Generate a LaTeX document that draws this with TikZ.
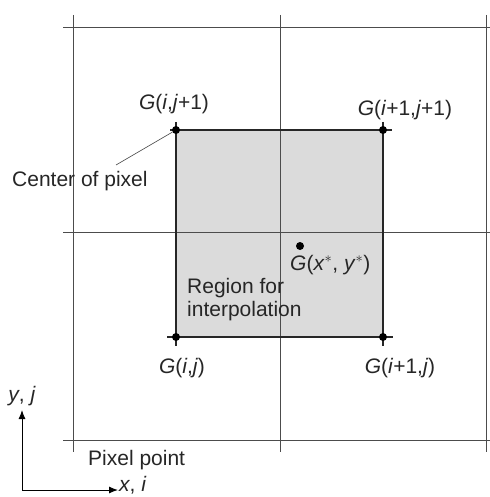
\documentclass[tikz,border=0pt]{standalone}
\usepackage{fontspec}
\setmainfont{Liberation Sans}
\usetikzlibrary{arrows.meta}
\begin{document}
\begin{tikzpicture}[x=1pt,y=-1pt,
  gridline/.style={draw=black!70,line width=0.7pt},
  rectline/.style={draw=black!85,line width=1.5pt},
  lbl/.style={font=\fontsize{21}{23}\selectfont,inner sep=0pt,text=black!85},
  dotpt/.style={circle,fill=black,inner sep=0pt,minimum size=8pt}]
\useasboundingbox (0,0) rectangle (489,497);
% grid
\foreach \xx in {73,280,486} \draw[gridline] (\xx,15) -- (\xx,452);
\foreach \yy in {27,232,440} \draw[gridline] (63,\yy) -- (492,\yy);
% region
\fill[black!14] (176,130) rectangle (383,337);
\draw[gridline] (280,130) -- (280,337);
\draw[gridline] (176,232) -- (383,232);
\draw[rectline] (170,130) -- (392,130);
\draw[rectline] (167,337) -- (393,337);
\draw[rectline] (176,122) -- (176,346);
\draw[rectline] (383,122) -- (383,346);
% corner points
\node[dotpt] (p11) at (176,130) {};
\node[dotpt] (p21) at (383,130) {};
\node[dotpt] (p10) at (176,337) {};
\node[dotpt] (p20) at (383,337) {};
\node[dotpt] (ps) at (300,246) {};
% labels
\node[lbl] (l11) at (174,104) {\textit{G}(\textit{i},\textit{j}+1)};
\node[lbl] (l21) at (405,110) {\textit{G}(\textit{i}+1,\textit{j}+1)};
\node[lbl] (l10) at (182,368) {\textit{G}(\textit{i},\textit{j})};
\node[lbl] (l20) at (400,368) {\textit{G}(\textit{i}+1,\textit{j})};
\node[lbl,anchor=west] (ls) at (290,265) {\textit{G}(\textit{x}$^{*}$, \textit{y}$^{*}$)};
\node[lbl,anchor=west,align=left] (reg) at (187,300) {Region for\\interpolation};
\node[lbl,anchor=west] (cp) at (12,181) {Center of pixel};
\draw[black!75,line width=0.6pt] (116,165) -- (p11);
% axes
\coordinate (o) at (22,490);
\coordinate (ytip) at (22,410);
\coordinate (xtip) at (118,490);
\draw[black,line width=1pt,-{Latex[length=9pt,width=7pt]}] (o) -- (ytip);
\draw[black,line width=1pt,-{Latex[length=9pt,width=7pt]}] (o) -- (xtip);
\node[lbl] (ylab) at (22,396) {\textit{y}, \textit{j}};
\node[lbl,anchor=base west] (xlab) at (119,491) {\textit{x}, \textit{i}};
\node[lbl,anchor=west] (pp) at (88,460) {Pixel point};
\end{tikzpicture}
\end{document}
